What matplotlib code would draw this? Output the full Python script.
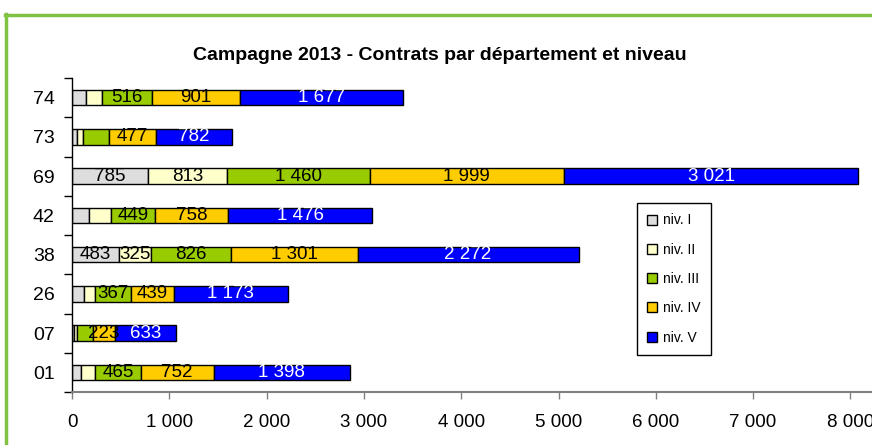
import matplotlib
matplotlib.use("Agg")
import matplotlib.pyplot as plt
from matplotlib.lines import Line2D
from matplotlib.ticker import FuncFormatter, FixedLocator
import numpy as np

plt.rcParams['font.family'] = ['Liberation Sans', 'DejaVu Sans']

departements = ['74', '73', '69', '42', '38', '26', '07', '01']
series_names = ['niv. I', 'niv. II', 'niv. III', 'niv. IV', 'niv. V']
niv1 = [145, 55, 785, 175, 483, 125, 20, 95]
niv2 = [160, 60, 813, 225, 325, 115, 35, 145]
niv3 = [516, 270, 1460, 449, 826, 367, 160, 465]
niv4 = [901, 477, 1999, 758, 1301, 439, 223, 752]
niv5 = [1677, 782, 3021, 1476, 2272, 1173, 633, 1398]
# which data labels are displayed in the reference
show1 = [False, False, True, False, True, False, False, False]
show2 = [False, False, True, False, True, False, False, False]
show3 = [True, False, True, True, True, True, False, True]
show4 = [True] * 8
show5 = [True] * 8
x_ticks = [0, 1000, 2000, 3000, 4000, 5000, 6000, 7000, 8000]

colors = ['#DDDDDD', '#FFFFCC', '#99CC00', '#FFCC00', '#0000FF']
label_colors = ['black', 'black', 'black', 'black', 'white']

W, H = 872, 445
fig = plt.figure(figsize=(W / 100, H / 100), dpi=100)
ax = fig.add_axes([72 / W, 1 - 392 / H, (W - 72) / W, (392 - 78) / H])

def fmt(v):
    return f"{int(v):,}".replace(",", "\u00a0")

y = np.arange(len(departements))
left = np.zeros(len(departements))
all_series = [niv1, niv2, niv3, niv4, niv5]
all_show = [show1, show2, show3, show4, show5]
for vals, show, c, lc, name in zip(all_series, all_show, colors, label_colors, series_names):
    vals = np.array(vals, dtype=float)
    ax.barh(y, vals, left=left, height=0.4, color=c, edgecolor='black',
            linewidth=1.0, label=name, zorder=2)
    for i, (v, s) in enumerate(zip(vals, show)):
        if s:
            ax.text(left[i] + v / 2, y[i], fmt(v), ha='center', va='center',
                    color=lc, fontsize=13.5, zorder=5)
    left += vals

ax.set_ylim(len(departements) - 0.5, -0.5)
ax.set_xlim(0, (W - 72) / 0.0973)
ax.set_yticks(y)
ax.set_yticklabels(departements)
ax.yaxis.set_minor_locator(FixedLocator(np.arange(-0.5, len(departements), 1.0)))
ax.tick_params(axis='y', which='major', length=0, pad=12.5, labelsize=14)
ax.tick_params(axis='y', which='minor', length=6, width=1, color='black')

ax.set_xticks(x_ticks)
ax.xaxis.set_major_formatter(FuncFormatter(lambda v, p: fmt(v)))
ax.tick_params(axis='x', length=5, width=1, color='#808080', pad=11, labelsize=13.5)

for s in ['top', 'right']:
    ax.spines[s].set_visible(False)
ax.spines['left'].set_color('black')
ax.spines['left'].set_linewidth(1)
ax.spines['bottom'].set_color('#808080')
ax.spines['bottom'].set_linewidth(1.5)

fig.text(440 / W, 1 - 56 / H, 'Campagne 2013 - Contrats par département et niveau',
         ha='center', va='center', fontsize=14, fontweight='bold')

handles = [Line2D([], [], marker='s', linestyle='none', markersize=7,
                  markerfacecolor=c, markeredgecolor='black', markeredgewidth=1)
           for c in colors]
leg = fig.legend(handles, series_names, loc='upper left',
                 bbox_to_anchor=(637 / W, 1 - 203 / H), fontsize=10,
                 frameon=True, fancybox=False, edgecolor='black', framealpha=1,
                 handlelength=0.7, handletextpad=0.4, labelspacing=1.1,
                 borderpad=0.75, borderaxespad=0)
leg.get_frame().set_linewidth(1)

green = '#80C342'
fig.add_artist(Line2D([6 / W, 6 / W], [0, 1 - 14 / H], color=green, linewidth=2.5,
                      transform=fig.transFigure))
fig.add_artist(Line2D([5 / W, 1], [1 - 15 / H, 1 - 15 / H], color=green, linewidth=2.5,
                      transform=fig.transFigure))

fig.savefig('out.png', dpi=100)
